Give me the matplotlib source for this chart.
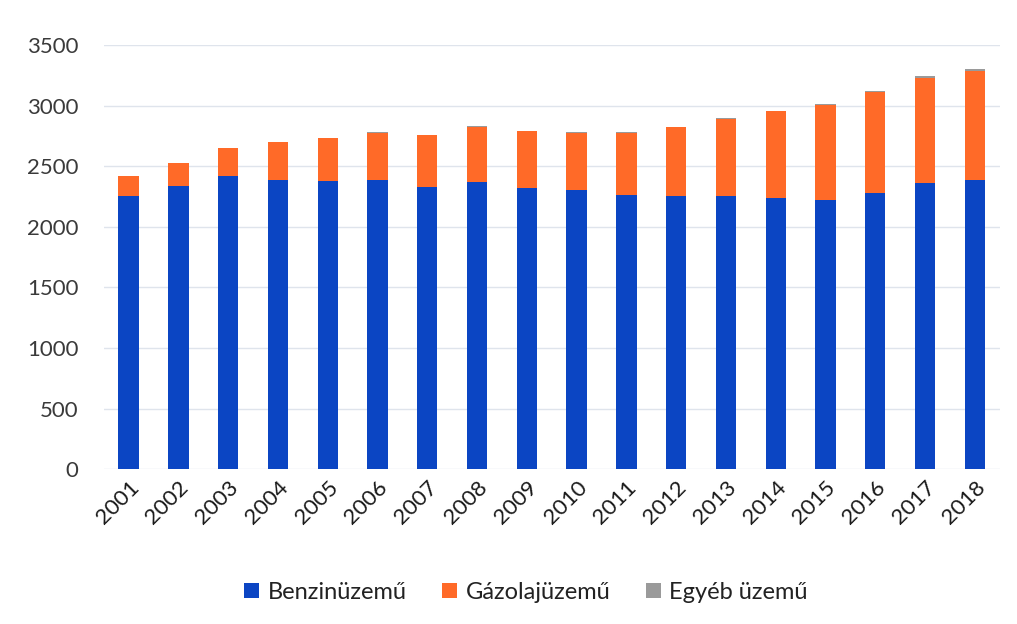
import matplotlib
matplotlib.use("Agg")
import matplotlib.pyplot as plt
import numpy as np

years = ["2001", "2002", "2003", "2004", "2005", "2006", "2007", "2008", "2009",
         "2010", "2011", "2012", "2013", "2014", "2015", "2016", "2017", "2018"]
benzin = [2255, 2337, 2416, 2383, 2375, 2389, 2331, 2368, 2319,
          2302, 2262, 2258, 2256, 2240, 2225, 2280, 2358, 2383]
gazolaj = [162, 190, 233, 316, 357, 388, 426, 458, 471,
           473, 512, 562, 634, 712, 777, 830, 872, 905]
egyeb = [3, 3, 3, 3, 3, 3, 4, 4, 4, 4, 5, 5, 6, 7, 8, 9, 11, 16]
yticks = [0, 500, 1000, 1500, 2000, 2500, 3000, 3500]
series_names = ["Benzinüzemű", "Gázolajüzemű", "Egyéb üzemű"]

plt.rcParams['font.family'] = ['Lato', 'DejaVu Sans']

fig = plt.figure(figsize=(10.17, 6.24), dpi=100)
ax = fig.add_axes([0.102, 0.248, 0.881, 0.68])

x = np.arange(len(years))
w = 0.41
b = np.array(benzin)
g = np.array(gazolaj)
e = np.array(egyeb)
ax.bar(x, b, width=w, color="#0B45C3", label=series_names[0], zorder=3)
ax.bar(x, g, width=w, bottom=b, color="#FF6A28", label=series_names[1], zorder=3)
ax.bar(x, e, width=w, bottom=b + g, color="#9A9A9A", label=series_names[2], zorder=3)

ax.set_xlim(-0.5, len(years) - 0.5)
ax.set_ylim(0, 3500)
ax.set_yticks(yticks)
ax.set_yticklabels([str(v) for v in yticks], fontsize=16, color="#3a3a3a")
ax.set_xticks(x)
ax.set_xticklabels(years, rotation=45, ha="right", rotation_mode="anchor",
                   fontsize=16, color="#1a1a1a")
ax.tick_params(axis="both", length=0)
ax.tick_params(axis="y", pad=18)
ax.tick_params(axis="x", pad=6)
ax.grid(axis="y", color="#dfe4ec", linewidth=1.0, zorder=0)
for s in ax.spines.values():
    s.set_visible(False)

leg = fig.legend(loc="lower center", bbox_to_anchor=(0.517, 0.0), ncol=3,
                 frameon=False, fontsize=17, handlelength=0.65, handleheight=0.65,
                 handletextpad=0.35, columnspacing=1.5)
for t in leg.get_texts():
    t.set_color("#222222")

fig.savefig("out.png", dpi=100, facecolor="white")
